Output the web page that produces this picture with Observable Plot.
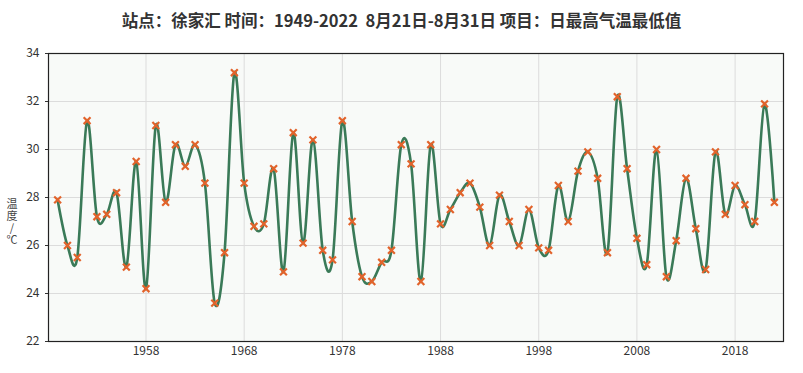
<!DOCTYPE html>
<html><head><meta charset="utf-8">
<script src="https://cdn.jsdelivr.net/npm/d3@7"></script>
<script src="https://cdn.jsdelivr.net/npm/@observablehq/plot@0.6"></script>
<style>
body{margin:0;background:#fff;font-family:"Noto Sans CJK SC","Noto Sans",sans-serif;position:relative;}
#title{height:40px;line-height:40px;text-align:center;font-size:16.5px;font-weight:bold;color:#333;white-space:pre;}
#ylabel{position:absolute;left:5px;top:198px;width:14px;writing-mode:vertical-rl;text-orientation:upright;font-size:11px;line-height:14px;letter-spacing:1px;color:#444;}
</style></head><body>
<div id="title"></div>
<div id="ylabel"></div>
<div id="chart"></div>
<script>
const titleText = "站点：徐家汇 时间：1949-2022  8月21日-8月31日 项目：日最高气温最低值";
const yLabel = "温度/℃";
const startYear = 1949;
const temps = [
 27.9, 26.0, 25.5, 31.2, 27.2, 27.3, 28.2, 25.1, 29.5, 24.2,
 31.0, 27.8, 30.2, 29.3, 30.2, 28.6, 23.6, 25.7, 33.2, 28.6,
 26.8, 26.9, 29.2, 24.9, 30.7, 26.1, 30.4, 25.8, 25.4, 31.2,
 27.0, 24.7, 24.5, 25.3, 25.8, 30.2, 29.4, 24.5, 30.2, 26.9,
 27.5, 28.2, 28.6, 27.6, 26.0, 28.1, 27.0, 26.0, 27.5, 25.9,
 25.8, 28.5, 27.0, 29.1, 29.9, 28.8, 25.7, 32.2, 29.2, 26.3,
 25.2, 30.0, 24.7, 26.2, 28.8, 26.7, 25.0, 29.9, 27.3, 28.5,
 27.7, 27.0, 31.9, 27.8
];
const xTicks = [1958, 1968, 1978, 1988, 1998, 2008, 2018];
const yTicks = [22, 24, 26, 28, 30, 32, 34];

document.getElementById("title").textContent = titleText;
document.getElementById("ylabel").textContent = yLabel;
const data = temps.map((t, i) => ({year: startYear + i, t}));

const chart = Plot.plot({
  width: 803,
  height: 333,
  marginLeft: 48,
  marginRight: 20,
  marginTop: 13,
  marginBottom: 32,
  style: {fontFamily: "'Noto Sans CJK SC','Noto Sans',sans-serif", fontSize: "12px", color: "#333", background: "transparent"},
  x: {domain: [1948.07, 2022.93], label: null},
  y: {domain: [22, 34], label: null},
  marks: [
    Plot.frame({fill: "#f8faf8", stroke: null}),
    Plot.gridX(xTicks, {stroke: "#dcdcdc", strokeOpacity: 1}),
    Plot.gridY(yTicks, {stroke: "#dcdcdc", strokeOpacity: 1}),
    Plot.frame({stroke: "#222", strokeWidth: 1.2}),
    Plot.axisX({ticks: xTicks, tickFormat: d => String(d), tickSize: 0, tickPadding: 5, fontSize: 12}),
    Plot.axisY({ticks: yTicks, tickSize: 3, tickPadding: 6, fontSize: 12}),
    Plot.line(data, {x: "year", y: "t", curve: "cardinal", stroke: "#3a7a58", strokeWidth: 2.6}),
    Plot.dot(data, {x: "year", y: "t", symbol: "times", r: 3.2, stroke: "#e2632b", strokeWidth: 2.2})
  ]
});
document.getElementById("chart").appendChild(chart);
</script>
</body></html>
